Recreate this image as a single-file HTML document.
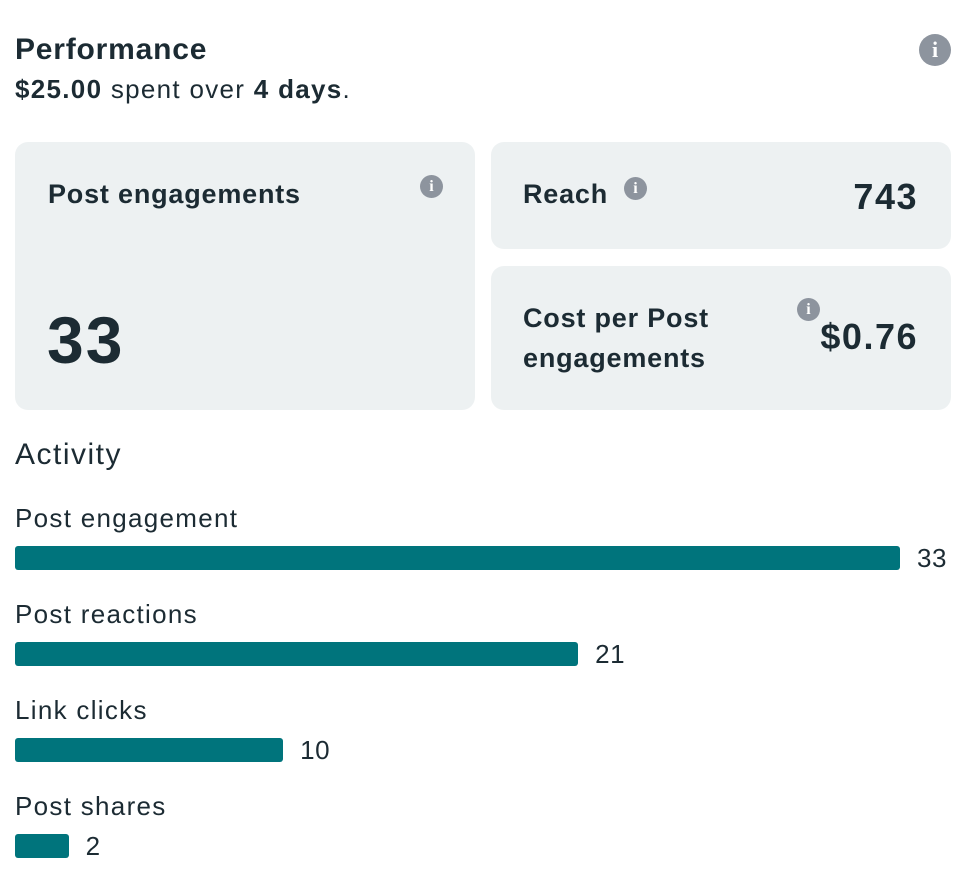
<!DOCTYPE html>
<html><head><meta charset="utf-8"><style>
body{margin:0;width:968px;height:880px;background:#fff;font-family:"Liberation Sans",sans-serif;color:#1c2b33;position:relative;overflow:hidden}
.a{position:absolute}
.card{position:absolute;background:#edf1f2;border-radius:13px}
.info{position:absolute;border-radius:50%;background:#8d949e;color:#fff;font-weight:bold;text-align:center;font-family:"Liberation Serif",serif}
.lbl{position:absolute;left:15px;font-size:26px;letter-spacing:1.3px;color:#1c2b33}
.bar{position:absolute;left:15px;height:24px;background:#00747c;border-radius:3px}
.val{position:absolute;font-size:26px;letter-spacing:0.5px;color:#1c2b33}
</style></head><body>
<div class="a" style="left:15px;top:33px;font-size:30px;letter-spacing:0.8px;font-weight:bold">Performance</div>
<div class="a" style="left:15px;top:74px;font-size:26px;letter-spacing:1.3px"><b>$25.00</b> spent over <b>4 days</b>.</div>
<div class="info" style="left:919px;top:34px;width:32px;height:32px;line-height:32px;font-size:22px">i</div>

<div class="card" style="left:15px;top:142px;width:460px;height:268px">
  <div class="a" style="left:33px;top:37px;font-size:27px;letter-spacing:0.8px;font-weight:bold">Post engagements</div>
  <div class="info" style="left:405px;top:33px;width:23px;height:23px;line-height:23px;font-size:16px">i</div>
  <div class="a" style="left:32px;top:160px;font-size:66px;letter-spacing:2px;font-weight:bold">33</div>
</div>
<div class="card" style="left:491px;top:142px;width:460px;height:107px">
  <div class="a" style="left:32px;top:37px;font-size:27px;letter-spacing:0.8px;font-weight:bold">Reach</div>
  <div class="info" style="left:133px;top:35px;width:23px;height:23px;line-height:23px;font-size:16px">i</div>
  <div class="a" style="right:33px;top:34px;font-size:36px;letter-spacing:1.5px;font-weight:bold">743</div>
</div>
<div class="card" style="left:491px;top:266px;width:460px;height:144px">
  <div class="a" style="left:32px;top:32px;font-size:27px;letter-spacing:0.8px;font-weight:bold;line-height:40px">Cost per Post<br>engagements</div>
  <div class="info" style="left:306px;top:32px;width:23px;height:23px;line-height:23px;font-size:16px">i</div>
  <div class="a" style="right:33px;top:50px;font-size:36px;letter-spacing:1.5px;font-weight:bold">$0.76</div>
</div>

<div class="a" style="left:15px;top:438px;font-size:30px;letter-spacing:1.5px">Activity</div>
<div id="chart"></div>
<script>
const categories=["Post engagement","Post reactions","Link clicks","Post shares"];
const values=[33,21,10,2];
const maxVal=33;
function xScale(v){return v/maxVal*885;}
const chart=document.getElementById('chart');
categories.forEach((c,i)=>{
  const top=503+i*96;
  const l=document.createElement('div');l.className='lbl';l.style.top=top+'px';l.textContent=c;
  
  
  chart.appendChild(l);
  const b=document.createElement('div');b.className='bar';b.style.top=(top+43)+'px';b.style.width=xScale(values[i])+'px';
  
  
  chart.appendChild(b);
  const v=document.createElement('div');v.className='val';v.style.top=(top+40)+'px';v.style.left=(15+xScale(values[i])+17)+'px';v.textContent=values[i];
  
  
  chart.appendChild(v);
});
</script>
</body></html>
